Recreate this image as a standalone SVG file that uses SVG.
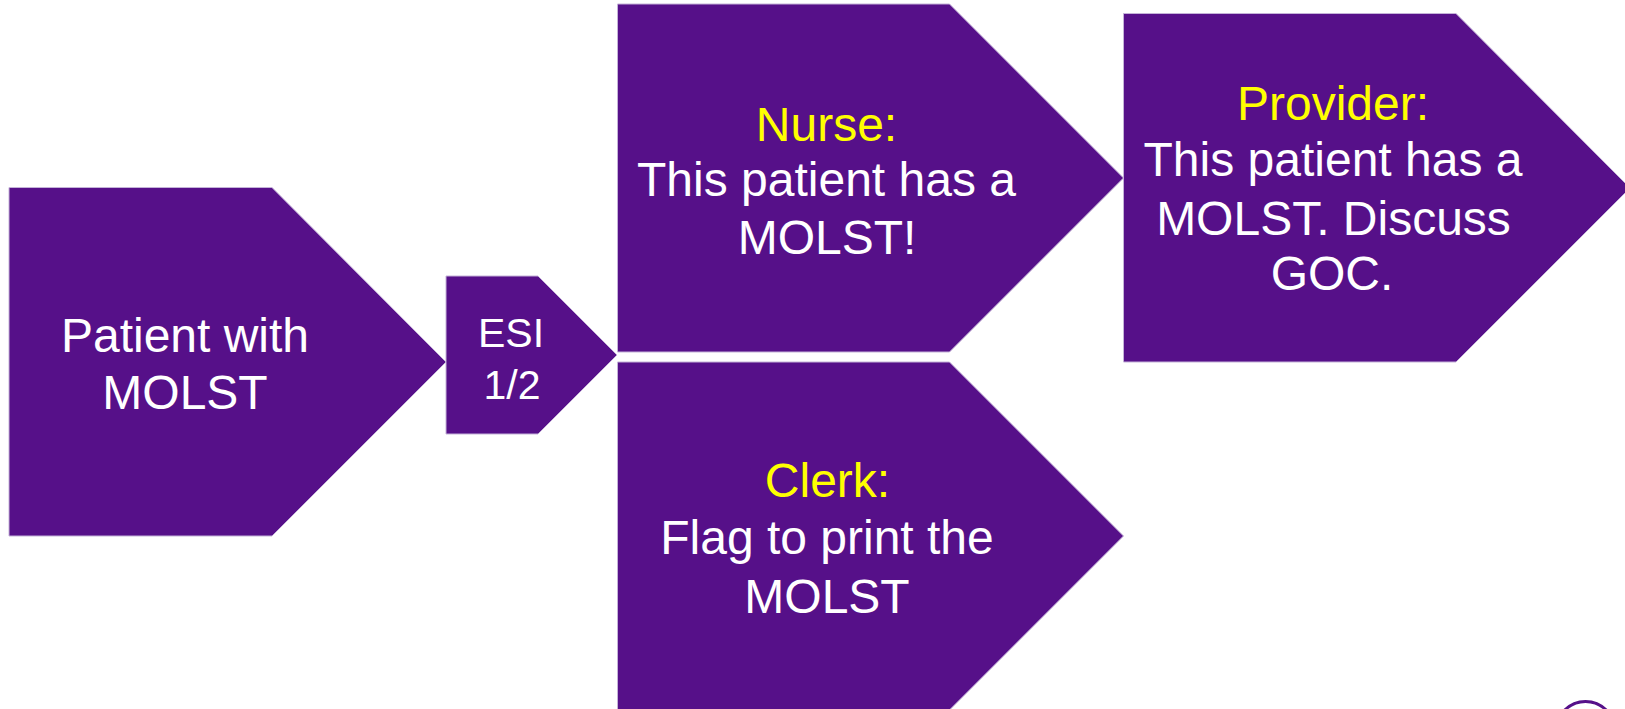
<svg xmlns="http://www.w3.org/2000/svg" width="1625" height="709" viewBox="0 0 1625 709">
  <style>
    .shape { fill: #561089; stroke: #c4b2d8; stroke-width: 1; }
    .t { font-family: "Liberation Sans", Arial, sans-serif; font-size: 48px; fill: #ffffff; text-anchor: middle; }
    .s { font-size: 41px; }
    .y { fill: #ffff00; }
  </style>
  <rect width="1625" height="709" fill="#ffffff"/>
  <g id="patient">
    <polygon class="shape" points="9,187.5 272,187.5 446,362 272,536 9,536"/>
    <text class="t" x="185" y="352">Patient with</text>
    <text class="t" x="185" y="408.5">MOLST</text>
  </g>
  <g id="esi">
    <polygon class="shape" points="446,276 538,276 617,355 538,434 446,434"/>
    <text class="t s" x="511" y="347">ESI</text>
    <text class="t s" x="512" y="398.5">1/2</text>
  </g>
  <g id="nurse">
    <polygon class="shape" points="617.5,4 949.5,4 1123.5,178 949.5,352 617.5,352"/>
    <text class="t y" x="826.5" y="140.5">Nurse:</text>
    <text class="t" x="826.5" y="196">This patient has a</text>
    <text class="t" x="827" y="254">MOLST!</text>
  </g>
  <g id="clerk">
    <polygon class="shape" points="617.5,362 949.5,362 1123.5,536 949.5,710 617.5,710"/>
    <text class="t y" x="827.5" y="497">Clerk:</text>
    <text class="t" x="827" y="554">Flag to print the</text>
    <text class="t" x="827" y="612.5">MOLST</text>
  </g>
  <g id="provider">
    <polygon class="shape" points="1123.5,13.5 1456,13.5 1630,188 1456,362 1123.5,362"/>
    <text class="t y" x="1333" y="119.5">Provider:</text>
    <text class="t" x="1333" y="176">This patient has a</text>
    <text class="t" x="1333.5" y="234.5">MOLST. Discuss</text>
    <text class="t" x="1332" y="290">GOC.</text>
  </g>
  <g id="connectors"></g>
  <circle cx="1585.5" cy="731" r="29.5" fill="none" stroke="#561089" stroke-width="3"/>
</svg>
